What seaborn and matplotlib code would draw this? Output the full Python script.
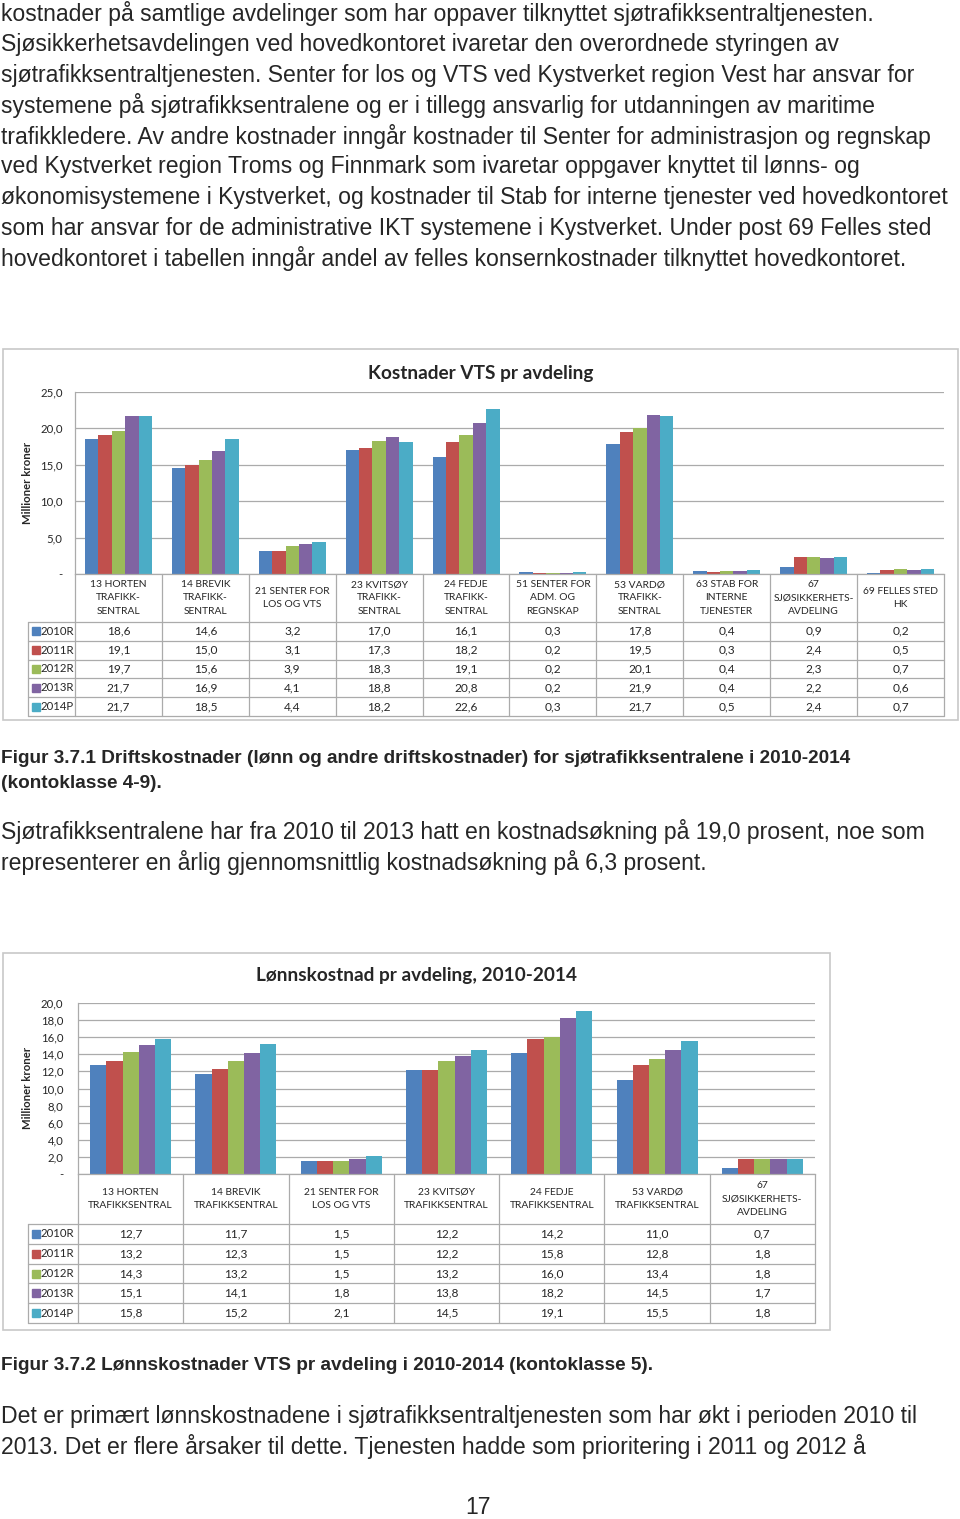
import pandas as pd
import seaborn as sns
import matplotlib.pyplot as plt
from matplotlib.patches import Rectangle

# data - figur 3.7.1
years = ['2010R', '2011R', '2012R', '2013R', '2014P']
avd_drift = ['13 HORTEN\nTRAFIKK-\nSENTRAL', '14 BREVIK\nTRAFIKK-\nSENTRAL', '21 SENTER FOR\nLOS OG VTS',
             '23 KVITSØY\nTRAFIKK-\nSENTRAL', '24 FEDJE\nTRAFIKK-\nSENTRAL', '51 SENTER FOR\nADM. OG\nREGNSKAP',
             '53 VARDØ\nTRAFIKK-\nSENTRAL', '63 STAB FOR\nINTERNE\nTJENESTER', '67\nSJØSIKKERHETS-\nAVDELING',
             '69 FELLES STED\nHK']
drift_2010 = [18.6, 14.6, 3.2, 17.0, 16.1, 0.3, 17.8, 0.4, 0.9, 0.2]
drift_2011 = [19.1, 15.0, 3.1, 17.3, 18.2, 0.2, 19.5, 0.3, 2.4, 0.5]
drift_2012 = [19.7, 15.6, 3.9, 18.3, 19.1, 0.2, 20.1, 0.4, 2.3, 0.7]
drift_2013 = [21.7, 16.9, 4.1, 18.8, 20.8, 0.2, 21.9, 0.4, 2.2, 0.6]
drift_2014 = [21.7, 18.5, 4.4, 18.2, 22.6, 0.3, 21.7, 0.5, 2.4, 0.7]

# data - figur 3.7.2
avd_lonn = ['13 HORTEN\nTRAFIKKSENTRAL', '14 BREVIK\nTRAFIKKSENTRAL', '21 SENTER FOR\nLOS OG VTS',
            '23 KVITSØY\nTRAFIKKSENTRAL', '24 FEDJE\nTRAFIKKSENTRAL', '53 VARDØ\nTRAFIKKSENTRAL',
            '67\nSJØSIKKERHETS-\nAVDELING']
lonn_2010 = [12.7, 11.7, 1.5, 12.2, 14.2, 11.0, 0.7]
lonn_2011 = [13.2, 12.3, 1.5, 12.2, 15.8, 12.8, 1.8]
lonn_2012 = [14.3, 13.2, 1.5, 13.2, 16.0, 13.4, 1.8]
lonn_2013 = [15.1, 14.1, 1.8, 13.8, 18.2, 14.5, 1.7]
lonn_2014 = [15.8, 15.2, 2.1, 14.5, 19.1, 15.5, 1.8]

ticks_drift = [0, 5, 10, 15, 20, 25]
ticks_lonn = [0, 2, 4, 6, 8, 10, 12, 14, 16, 18, 20]

colors = ['#4F81BD', '#C0504D', '#9BBB59', '#8064A2', '#4BACC6']
grid = '#ababab'

# tekst på siden
tekst_topp = [
    'kostnader på samtlige avdelinger som har oppaver tilknyttet sjøtrafikksentraltjenesten.',
    'Sjøsikkerhetsavdelingen ved hovedkontoret ivaretar den overordnede styringen av',
    'sjøtrafikksentraltjenesten. Senter for los og VTS ved Kystverket region Vest har ansvar for',
    'systemene på sjøtrafikksentralene og er i tillegg ansvarlig for utdanningen av maritime',
    'trafikkledere. Av andre kostnader inngår kostnader til Senter for administrasjon og regnskap',
    'ved Kystverket region Troms og Finnmark som ivaretar oppgaver knyttet til lønns- og',
    'økonomisystemene i Kystverket, og kostnader til Stab for interne tjenester ved hovedkontoret',
    'som har ansvar for de administrative IKT systemene i Kystverket. Under post 69 Felles sted',
    'hovedkontoret i tabellen inngår andel av felles konsernkostnader tilknyttet hovedkontoret.',
]
tekst_midt = ['Sjøtrafikksentralene har fra 2010 til 2013 hatt en kostnadsøkning på 19,0 prosent, noe som',
              'representerer en årlig gjennomsnittlig kostnadsøkning på 6,3 prosent.']
tekst_bunn = ['Det er primært lønnskostnadene i sjøtrafikksentraltjenesten som har økt i perioden 2010 til',
              '2013. Det er flere årsaker til dette. Tjenesten hadde som prioritering i 2011 og 2012 å']
figur1 = ['Figur 3.7.1 Driftskostnader (lønn og andre driftskostnader) for sjøtrafikksentralene i 2010-2014',
          '(kontoklasse 4-9).']
figur2 = ['Figur 3.7.2 Lønnskostnader VTS pr avdeling i 2010-2014 (kontoklasse 5).']

sns.set_style('white')
plt.rcParams['font.family'] = ['Lato', 'DejaVu Sans']
body_font = ['Liberation Sans', 'DejaVu Sans']
body_size = 16.6
cap_size = 13.7

W, H = 960, 1519
fig = plt.figure(figsize=(W / 100, H / 100), dpi=100)


def fr(x0, y0, x1, y1):
    # piksler -> figurkoordinater
    return [x0 / W, 1 - y1 / H, (x1 - x0) / W, (y1 - y0) / H]


def lang_format(avd, serier):
    df = pd.DataFrame({'avdeling': avd})
    for yr, vals in zip(years, serier):
        df[yr] = vals
    return df.melt(id_vars='avdeling', var_name='år', value_name='verdi')


def tall(v):
    return '-' if v == 0 else f'{v:.1f}'.replace('.', ',')


def tegn_diagram(df, cats, title, ticks, plot_px, tab_bottom, header_px, leg_left,
                 box_px, title_xy, ylab_xy, pad):
    bx0, by0, bx1, by1 = box_px
    fig.add_artist(Rectangle((bx0 / W, 1 - by1 / H), (bx1 - bx0) / W, (by1 - by0) / H,
                             transform=fig.transFigure, fill=False, ec='#c8c8c8', lw=1.2))

    x0, y0, x1, y1 = plot_px
    ax = fig.add_axes(fr(x0, y0, x1, y1))
    sns.barplot(data=df, x='avdeling', y='verdi', hue='år', order=cats, hue_order=years,
                palette=colors, width=0.77, saturation=1, linewidth=0, errorbar=None,
                legend=False, ax=ax)
    n = len(cats)
    ax.set_xlim(-0.5, n - 0.5)
    ax.set_ylim(ticks[0], ticks[-1])
    ax.set_yticks(ticks)
    ax.set_yticklabels([tall(t) for t in ticks])
    ax.set_xticks([])
    ax.set_xlabel('')
    ax.set_ylabel('')
    ax.yaxis.grid(True, color=grid, lw=0.9)
    ax.set_axisbelow(True)
    for s in ['top', 'right']:
        ax.spines[s].set_visible(False)
    for s in ['left', 'bottom']:
        ax.spines[s].set_color(grid)
        ax.spines[s].set_linewidth(0.9)
    ax.tick_params(axis='y', length=0, pad=pad, labelsize=8.2)

    fig.text(title_xy[0] / W, 1 - title_xy[1] / H, title, fontsize=13.7, weight='bold',
             ha='center', va='center')
    fig.text(ylab_xy[0] / W, 1 - ylab_xy[1] / H, 'Millioner kroner', fontsize=8.2, weight='bold',
             rotation=90, ha='center', va='center')

    # datatabell under diagrammet
    tax = fig.add_axes(fr(leg_left, y1, x1, tab_bottom))
    cat_px = (x1 - x0) / n
    left = -0.5 - (x0 - leg_left) / cat_px
    row_px = (tab_bottom - y1 - header_px) / len(years)
    hr = header_px / row_px
    total = hr + len(years)
    tax.set_xlim(left, n - 0.5)
    tax.set_ylim(total, 0)
    tax.axis('off')
    for i in range(n + 1):
        tax.plot([i - 0.5, i - 0.5], [0, total], color=grid, lw=0.9, clip_on=False)
    tax.plot([left, left], [hr, total], color=grid, lw=0.9, clip_on=False)
    for k in range(len(years) + 1):
        tax.plot([left, n - 0.5], [hr + k, hr + k], color=grid, lw=0.9, clip_on=False)
    for i, c in enumerate(cats):
        tax.text(i, hr / 2, c, ha='center', va='center', fontsize=7.4, linespacing=1.62)
    for k, yr in enumerate(years):
        vals = df[df['år'] == yr].set_index('avdeling').loc[cats, 'verdi']
        for i, v in enumerate(vals):
            tax.text(i, hr + k + 0.5, tall(v), ha='center', va='center', fontsize=8.6)
        tax.plot([left + 8 / cat_px], [hr + k + 0.5], marker='s', markersize=6,
                 color=colors[k], clip_on=False)
        tax.text(left + 12.5 / cat_px, hr + k + 0.5, yr, ha='left', va='center', fontsize=8.2)


# brødtekst
for i, line in enumerate(tekst_topp):
    fig.text(1 / W, 1 - (14 + i * 30.6) / H, line, fontsize=body_size, family=body_font, va='center')

df_drift = lang_format(avd_drift, [drift_2010, drift_2011, drift_2012, drift_2013, drift_2014])
tegn_diagram(df_drift, avd_drift, 'Kostnader VTS pr avdeling', ticks_drift,
             (75, 392, 944, 574), 716, 48, 28, (3, 349, 958, 720), (481, 373), (28, 483), 9)

for i, line in enumerate(figur1):
    fig.text(1 / W, 1 - (758 + i * 25) / H, line, fontsize=cap_size, weight='bold', family=body_font,
             va='center')
for i, line in enumerate(tekst_midt):
    fig.text(1 / W, 1 - (832 + i * 30.6) / H, line, fontsize=body_size, family=body_font, va='center')

df_lonn = lang_format(avd_lonn, [lonn_2010, lonn_2011, lonn_2012, lonn_2013, lonn_2014])
tegn_diagram(df_lonn, avd_lonn, 'Lønnskostnad pr avdeling, 2010-2014', ticks_lonn,
             (78, 1003, 815, 1174), 1323, 50, 28, (3, 953, 830, 1330), (416, 975), (28, 1088), 10.5)

fig.text(1 / W, 1 - 1366 / H, figur2[0], fontsize=cap_size, weight='bold', family=body_font, va='center')
for i, line in enumerate(tekst_bunn):
    fig.text(1 / W, 1 - (1416 + i * 30.6) / H, line, fontsize=body_size, family=body_font, va='center')

fig.text(478 / W, 1 - 1508 / H, '17', fontsize=body_size, family=body_font, ha='center', va='center')

plt.savefig('out.png', dpi=100)
